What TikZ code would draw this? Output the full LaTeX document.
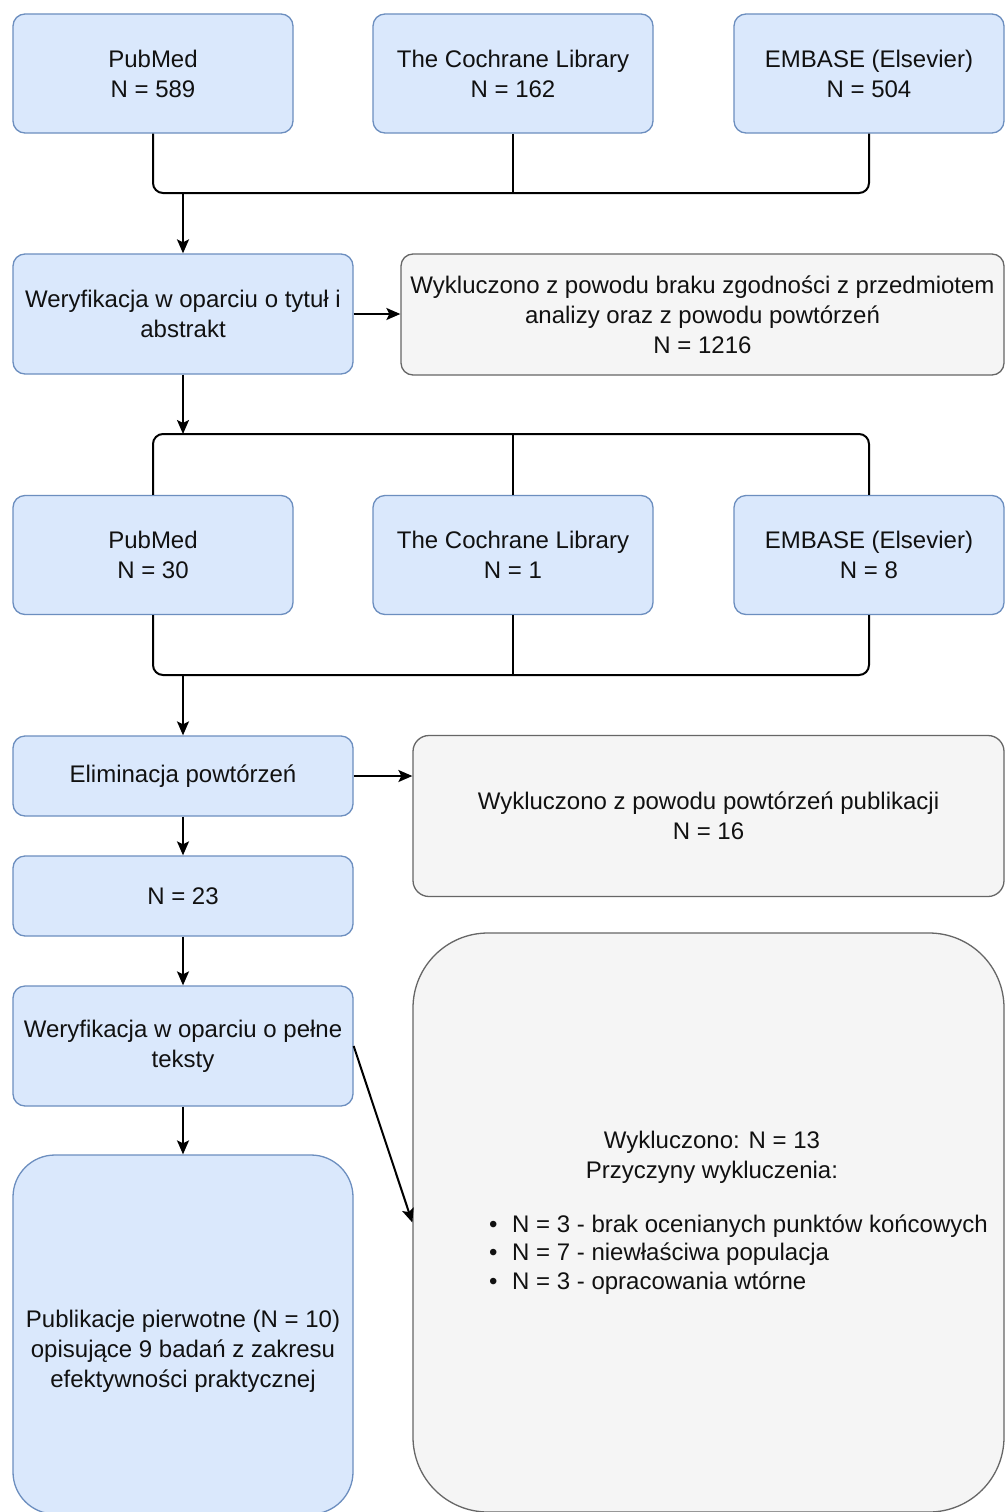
\documentclass[tikz,border=0pt]{standalone}
\usepackage{fontspec}
\setmainfont{Liberation Sans}
\usetikzlibrary{arrows.meta,calc}
\definecolor{bfill}{HTML}{DAE8FC}
\definecolor{bline}{HTML}{6C8EBF}
\definecolor{gfill}{HTML}{F5F5F5}
\definecolor{gline}{HTML}{666666}
\definecolor{txt}{HTML}{111111}
\begin{document}
\begin{tikzpicture}[x=1pt,y=-1pt,
  lbl/.style={align=center,text=txt,font=\fontsize{24}{30}\selectfont,inner sep=0pt},
  box/.style={lbl,draw=bline,fill=bfill,line width=1.3pt,rounded corners=12pt},
  gbox/.style={lbl,draw=gline,fill=gfill,line width=1.3pt,rounded corners=16pt},
  src/.style={box,minimum width=280pt,minimum height=119pt},
  mainbox/.style={box,minimum width=340pt},
  conn/.style={draw=black,line width=2pt},
  arr/.style={conn,-{Stealth[length=14pt,width=12pt,inset=3pt]}}
]
\useasboundingbox (0,0) rectangle (1005,1512);
\fill[white] (0,0) rectangle (1005,1512);

% first row of sources
\node[src] (pm1) at (153,73.5) {PubMed\\N = 589};
\node[src] (co1) at (513,73.5) {The Cochrane Library\\N = 162};
\node[src,minimum width=270pt] (em1) at (869,73.5) {EMBASE (Elsevier)\\N = 504};
\coordinate (j1) at (513,193);

% title / abstract verification
\node[mainbox,minimum height=120pt] (wv1) at (183,314) {Weryfikacja w oparciu o tytuł i\\abstrakt};
\node[gbox,rounded corners=12pt,minimum width=603pt,minimum height=121pt] (ex1) at (702.5,314.5)
  {Wykluczono z powodu braku zgodności z przedmiotem\\analizy oraz z powodu powtórzeń\\N = 1216};
\coordinate (j2) at (513,434);

% second row of sources
\node[src] (pm2) at (153,555) {PubMed\\N = 30};
\node[src] (co2) at (513,555) {The Cochrane Library\\N = 1};
\node[src,minimum width=270pt] (em2) at (869,555) {EMBASE (Elsevier)\\N = 8};
\coordinate (j3) at (513,675);

% duplicates
\node[mainbox,minimum height=80pt] (el) at (183,776) {Eliminacja powtórzeń};
\node[gbox,minimum width=591pt,minimum height=161pt] (ex2) at (708.5,816)
  {Wykluczono z powodu powtórzeń publikacji\\N = 16};
\node[mainbox,minimum height=80pt] (n23) at (183,896) {N = 23};

% full text
\node[mainbox,minimum height=120pt] (wv2) at (183,1046) {Weryfikacja w oparciu o pełne\\teksty};
\node[box,rounded corners=42pt,minimum width=340pt,minimum height=359pt] (pub) at (183,1334.5) {};
\node[lbl] (pubtxt) at (183,1351) {Publikacje pierwotne (N = 10)\\opisujące 9 badań z zakresu\\efektywności praktycznej};
\node[gbox,rounded corners=75pt,minimum width=591pt,minimum height=579pt] (ex3) at (708.5,1222.5) {};
\node[lbl] (ex3head) at (712,1157.5) {Wykluczono: N = 13\\Przyczyny wykluczenia:};
\node[lbl,align=left,anchor=west,font=\fontsize{24}{28.5}\selectfont] (ex3list) at (489,1254.5)
  {\makebox[23pt][l]{•}N = 3 - brak ocenianych punktów końcowych\\
   \makebox[23pt][l]{•}N = 7 - niewłaściwa populacja\\
   \makebox[23pt][l]{•}N = 3 - opracowania wtórne};

% connectors
\draw[conn,rounded corners=10pt] (pm1.south) |- (j1) -| (em1.south);
\draw[conn] (co1.south) -- (j1);
\draw[arr] (wv1.north |- j1) -- (wv1.north);
\draw[arr] (wv1.east) -- (wv1.east -| ex1.west);
\draw[arr] (wv1.south) -- (wv1.south |- j2);
\draw[conn,rounded corners=10pt] (pm2.north) |- (j2) -| (em2.north);
\draw[conn] (co2.north) -- (j2);
\draw[conn,rounded corners=10pt] (pm2.south) |- (j3) -| (em2.south);
\draw[conn] (co2.south) -- (j3);
\draw[arr] (el.north |- j3) -- (el.north);
\draw[arr] (el.east) -- (el.east -| ex2.west);
\draw[arr] (el.south) -- (n23.north);
\draw[arr] (n23.south) -- (wv2.north);
\draw[arr] (wv2.south) -- (pub.north);
\draw[arr] (wv2.east) -- (ex3.west);
\end{tikzpicture}
\end{document}
